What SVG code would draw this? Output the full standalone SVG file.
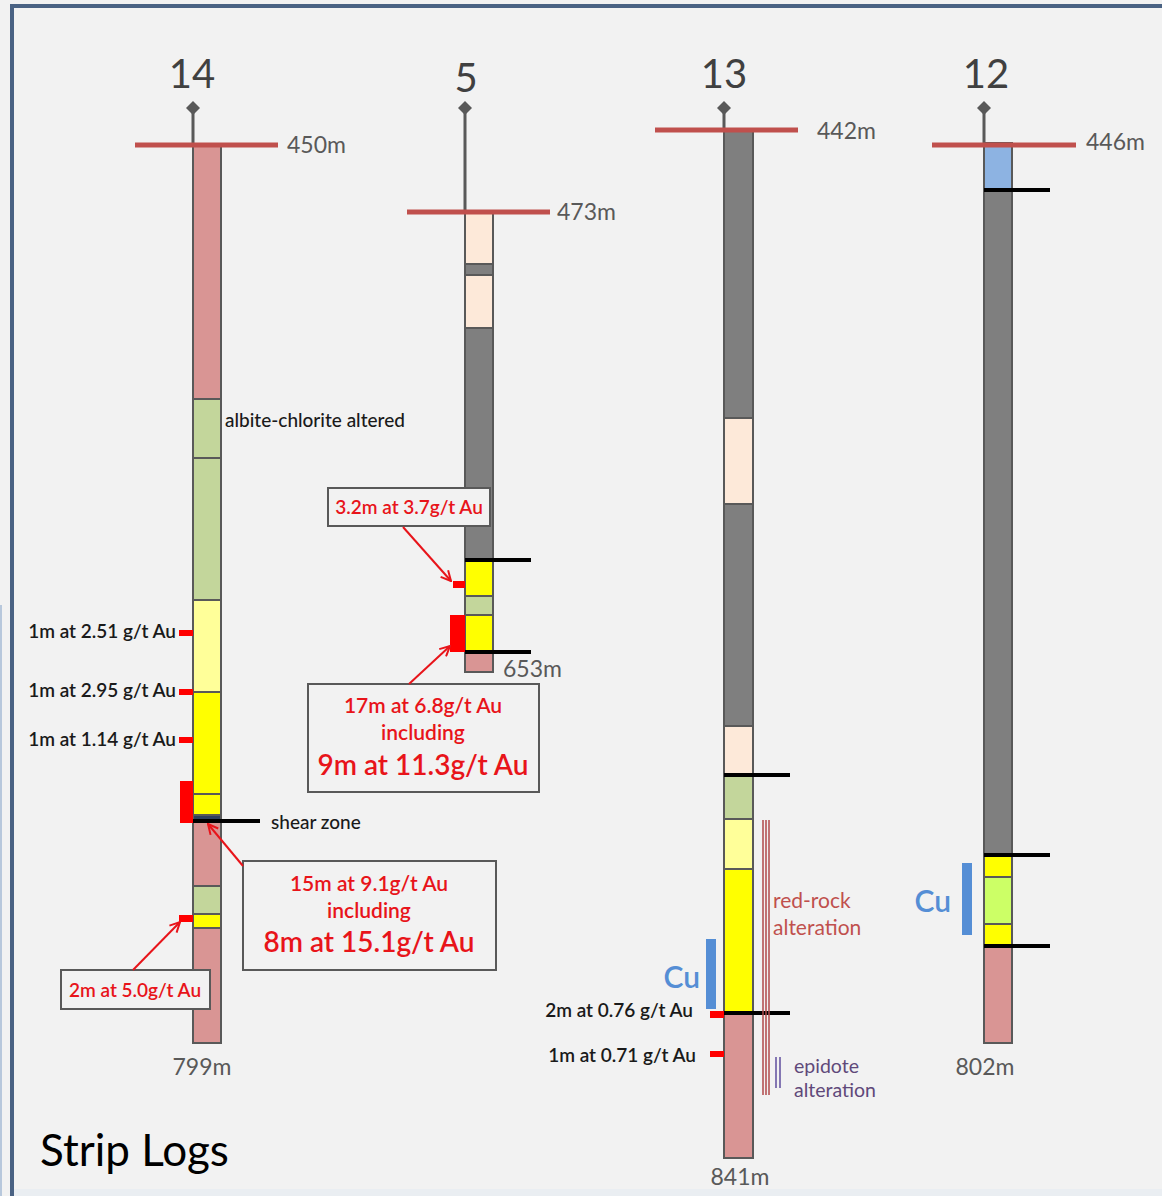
<svg xmlns="http://www.w3.org/2000/svg" width="1162" height="1196" viewBox="0 0 1162 1196">
<defs>
<style>
text{font-family:Lato,"Open Sans","Liberation Sans",sans-serif}
.title{font-size:40px;fill:#404040;text-anchor:middle}
.depth{font-size:23px;fill:#595959}
.seg{stroke:#595959;stroke-width:2}
.pink{fill:#d99594}.green{fill:#c3d69b}.lyel{fill:#ffff99}.yel{fill:#ffff00}
.gray{fill:#7f7f7f}.peach{fill:#fde9d9}.blue{fill:#8db3e2}.lime{fill:#ccff66}.navy{fill:#2e3f5c}
.stem{stroke:#595959;stroke-width:3}
.collar{stroke:#c0504d;stroke-width:5}
.contact{stroke:#000;stroke-width:4}
.hit{fill:#ff0000}
.lbl{font-size:19px;fill:#1a1a1a;font-weight:600}
.box{fill:#f2f2f2;stroke:#595959;stroke-width:2}
.rt{fill:#e8141a;text-anchor:middle;font-weight:600}
.arrow{stroke:#e8141a;stroke-width:2;fill:none}
.cu{fill:#558ed5}
</style>
<marker id="ah" viewBox="0 0 12 12" refX="11" refY="6" markerWidth="12" markerHeight="12" markerUnits="userSpaceOnUse" orient="auto">
<path d="M1,1 L11,6 L1,11" fill="none" stroke="#e8141a" stroke-width="2"/>
</marker>
</defs>
<rect x="0" y="0" width="1162" height="1196" fill="#f2f2f2"/>
<line x1="1" y1="605" x2="1" y2="1196" stroke="#b8c8dc" stroke-width="2"/>
<path d="M12,1196 V6 H1162" fill="none" stroke="#4a6283" stroke-width="4"/>
<rect x="14" y="1189" width="1148" height="7" fill="#eaeef2"/>

<g id="hole14">
<text class="title" x="192" y="88">14</text>
<line class="stem" x1="193" y1="108" x2="193" y2="145"/>
<path d="M193,101 L200,108 L193,115 L186,108 Z" fill="#595959"/>
<rect class="seg pink" x="193" y="145" width="28" height="254"/>
<rect class="seg green" x="193" y="399" width="28" height="59"/>
<rect class="seg green" x="193" y="458" width="28" height="142"/>
<rect class="seg lyel" x="193" y="600" width="28" height="92"/>
<rect class="seg yel" x="193" y="692" width="28" height="102"/>
<rect class="seg yel" x="193" y="794" width="28" height="21"/>
<rect class="seg navy" x="193" y="815" width="28" height="7"/>
<rect class="seg pink" x="193" y="822" width="28" height="64"/>
<rect class="seg green" x="193" y="886" width="28" height="28"/>
<rect class="seg yel" x="193" y="914" width="28" height="14"/>
<rect class="seg pink" x="193" y="928" width="28" height="115"/>
<line class="collar" x1="135" y1="145" x2="278" y2="145"/>
<text class="depth" x="287" y="153">450m</text>
<text class="depth" x="202" y="1075" text-anchor="middle">799m</text>
<line class="contact" x1="193" y1="821" x2="260" y2="821"/>
<rect class="hit" x="179" y="630" width="14" height="6"/>
<rect class="hit" x="179" y="689" width="14" height="6"/>
<rect class="hit" x="179" y="737" width="14" height="6"/>
<rect class="hit" x="180" y="781" width="13" height="42"/>
<rect class="hit" x="179" y="915" width="14" height="7"/>
<text class="lbl" x="225" y="427" style="font-weight:500">albite-chlorite altered</text>
<text class="lbl" x="176" y="638" text-anchor="end">1m at 2.51 g/t Au</text>
<text class="lbl" x="176" y="697" text-anchor="end">1m at 2.95 g/t Au</text>
<text class="lbl" x="176" y="746" text-anchor="end">1m at 1.14 g/t Au</text>
<text class="lbl" x="271" y="829" style="font-weight:500">shear zone</text>
</g>

<g id="callout14a">
<rect class="box" x="243" y="861" width="253" height="109"/>
<text class="rt" x="369" y="891" font-size="21">15m at 9.1g/t Au</text>
<text class="rt" x="369" y="918" font-size="21">including</text>
<text class="rt" x="369" y="952" font-size="28">8m at 15.1g/t Au</text>
</g>
<g id="callout14b">
<rect class="box" x="61" y="970" width="149" height="39"/>
<text class="rt" x="135" y="997" font-size="19">2m at 5.0g/t Au</text>
</g>

<g id="hole5">
<text class="title" x="466" y="92">5</text>
<line class="stem" x1="465" y1="108" x2="465" y2="212"/>
<path d="M465,101 L472,108 L465,115 L458,108 Z" fill="#595959"/>
<rect class="seg peach" x="465" y="212" width="28" height="52"/>
<rect class="seg gray" x="465" y="264" width="28" height="11"/>
<rect class="seg peach" x="465" y="275" width="28" height="53"/>
<rect class="seg gray" x="465" y="328" width="28" height="232"/>
<rect class="seg yel" x="465" y="560" width="28" height="36"/>
<rect class="seg green" x="465" y="596" width="28" height="19"/>
<rect class="seg yel" x="465" y="615" width="28" height="37"/>
<rect class="seg pink" x="465" y="652" width="28" height="20"/>
<line class="collar" x1="407" y1="212" x2="550" y2="212"/>
<text class="depth" x="557" y="220">473m</text>
<text class="depth" x="503" y="677">653m</text>
<line class="contact" x1="465" y1="560" x2="531" y2="560"/>
<line class="contact" x1="465" y1="652" x2="531" y2="652"/>
<rect class="hit" x="453" y="581" width="12" height="7"/>
<rect class="hit" x="450" y="615" width="15" height="37"/>
</g>

<g id="callout5a">
<rect class="box" x="328" y="488" width="162" height="38"/>
<text class="rt" x="409" y="514" font-size="19">3.2m at 3.7g/t Au</text>
</g>
<g id="callout5b">
<rect class="box" x="308" y="684" width="231" height="108"/>
<text class="rt" x="423" y="713" font-size="21">17m at 6.8g/t Au</text>
<text class="rt" x="423" y="740" font-size="21">including</text>
<text class="rt" x="423" y="775" font-size="28">9m at 11.3g/t Au</text>
</g>

<g id="hole13">
<text class="title" x="724" y="88">13</text>
<line class="stem" x1="724" y1="108" x2="724" y2="130"/>
<path d="M724,101 L731,108 L724,115 L717,108 Z" fill="#595959"/>
<rect class="seg gray" x="724" y="130" width="29" height="288"/>
<rect class="seg peach" x="724" y="418" width="29" height="86"/>
<rect class="seg gray" x="724" y="504" width="29" height="222"/>
<rect class="seg peach" x="724" y="726" width="29" height="49"/>
<rect class="seg green" x="724" y="775" width="29" height="44"/>
<rect class="seg lyel" x="724" y="819" width="29" height="50"/>
<rect class="seg yel" x="724" y="869" width="29" height="144"/>
<rect class="seg pink" x="724" y="1013" width="29" height="145"/>
<line class="collar" x1="655" y1="130" x2="798" y2="130"/>
<text class="depth" x="817" y="139">442m</text>
<text class="depth" x="740" y="1185" text-anchor="middle">841m</text>
<line class="contact" x1="724" y1="775" x2="790" y2="775"/>
<line class="contact" x1="724" y1="1013" x2="790" y2="1013"/>
<g stroke="#b0484a" stroke-width="1.5">
<line x1="763" y1="820" x2="763" y2="1095"/>
<line x1="766" y1="820" x2="766" y2="1095"/>
<line x1="769" y1="820" x2="769" y2="1095"/>
</g>
<g stroke="#8477b3" stroke-width="2">
<line x1="776" y1="1057" x2="776" y2="1088"/>
<line x1="780" y1="1057" x2="780" y2="1088"/>
</g>
<text x="773" y="908" font-size="21" fill="#c0504d">red-rock</text>
<text x="773" y="935" font-size="21" fill="#c0504d">alteration</text>
<text x="794" y="1073" font-size="19.5" fill="#60497a">epidote</text>
<text x="794" y="1097" font-size="19.5" fill="#60497a">alteration</text>
<rect class="cu" x="706" y="939" width="10" height="70"/>
<text x="700" y="988" font-size="30" class="cu" text-anchor="end" font-weight="600">Cu</text>
<rect class="hit" x="710" y="1011" width="14" height="7"/>
<rect class="hit" x="710" y="1051" width="14" height="6"/>
<text class="lbl" x="693" y="1017" text-anchor="end">2m at 0.76 g/t Au</text>
<text class="lbl" x="696" y="1062" text-anchor="end">1m at 0.71 g/t Au</text>
</g>

<g id="hole12">
<text class="title" x="986" y="88">12</text>
<line class="stem" x1="984" y1="108" x2="984" y2="143"/>
<path d="M984,101 L991,108 L984,115 L977,108 Z" fill="#595959"/>
<rect class="seg blue" x="984" y="143" width="28" height="47"/>
<rect class="seg gray" x="984" y="190" width="28" height="665"/>
<rect class="seg yel" x="984" y="855" width="28" height="22"/>
<rect class="seg lime" x="984" y="877" width="28" height="47"/>
<rect class="seg yel" x="984" y="924" width="28" height="22"/>
<rect class="seg pink" x="984" y="946" width="28" height="97"/>
<line class="collar" x1="932" y1="145" x2="1076" y2="145"/>
<text class="depth" x="1086" y="150">446m</text>
<text class="depth" x="985" y="1075" text-anchor="middle">802m</text>
<line class="contact" x1="984" y1="190" x2="1050" y2="190"/>
<line class="contact" x1="984" y1="855" x2="1050" y2="855"/>
<line class="contact" x1="984" y1="946" x2="1050" y2="946"/>
<rect class="cu" x="962" y="863" width="10" height="72"/>
<text x="951" y="912" font-size="30" class="cu" text-anchor="end" font-weight="600">Cu</text>
</g>

<g id="connectors">
<line class="arrow" x1="243" y1="866" x2="208" y2="824" marker-end="url(#ah)"/>
<line class="arrow" x1="133" y1="970" x2="180" y2="922" marker-end="url(#ah)"/>
<line class="arrow" x1="403" y1="527" x2="451" y2="581" marker-end="url(#ah)"/>
<line class="arrow" x1="409" y1="684" x2="450" y2="646" marker-end="url(#ah)"/>
</g>

<text x="40" y="1166" font-size="44" fill="#000">Strip Logs</text>
</svg>
